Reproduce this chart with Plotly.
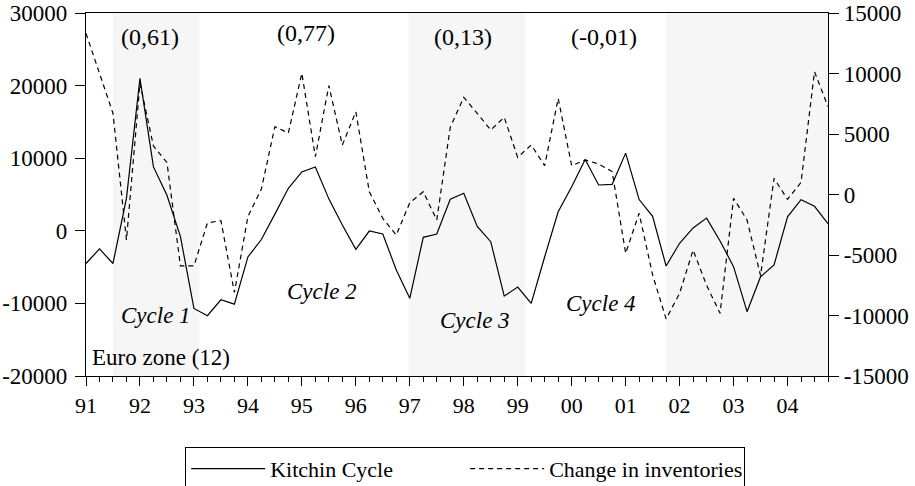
import plotly.graph_objects as go

# ---- data ----
years = list(range(1991, 2005))
year_labels = ["91", "92", "93", "94", "95", "96", "97", "98", "99", "00", "01", "02", "03", "04"]

kitchin = [
    -4500, -2500, -4500, 4500,      # 91
    21000, 8800, 4900, -800,        # 92
    -10700, -11700, -9500, -10100,  # 93
    -3600, -1200, 2300, 5850,       # 94
    8100, 8800, 4400, 800,          # 95
    -2550, -30, -440, -5400,        # 96
    -9300, -900, -440, 4340,        # 97
    5170, 600, -1500, -9000,        # 98
    -7750, -10000, -3570, 2630,     # 99
    6080, 9810, 6310, 6400,         # 00
    10700, 4300, 2000, -4850,       # 01
    -1720, 400, 1750, -1400,        # 02
    -4940, -11140, -6320, -4710,    # 03
    1930, 4290, 3370, 980,          # 04
]

inventories = [
    13320, 10100, 6710, -3760,      # 91
    9200, 4000, 2650, -5900,        # 92
    -5900, -2350, -2160, -8100,     # 93
    -1830, 450, 5600, 5080,         # 94
    10020, 3120, 9000, 4090,        # 95
    6840, 230, -1970, -3350,        # 96
    -680, 230, -2110, 5550,         # 97
    8030, 6710, 5330, 6380,         # 98
    3070, 4090, 2380, 7950,         # 99
    2380, 2850, 2520, 1900,         # 00
    -4860, -1550, -6650, -10280,    # 01
    -8170, -4590, -7500, -9820,     # 02
    -310, -2110, -6700, 1340,       # 03
    -400, 1000, 10150, 7260,        # 04
]

correlations = ["(0,61)", "(0,77)", "(0,13)", "(-0,01)"]
cycle_names = ["Cycle 1", "Cycle 2", "Cycle 3", "Cycle 4"]
left_ticks = [-20000, -10000, 0, 10000, 20000, 30000]
right_ticks = [-15000, -10000, -5000, 0, 5000, 10000, 15000]
shaded_periods = [(91.5, 93.1), (96.97, 99.14), (101.75, 104.75)]

# ---- positions (years as 91..104 on a numeric axis, quarters in between) ----
x = [(y - 1900) + q * 0.25 for y in years for q in range(4)]
tickpos = [y - 1900 for y in years]

FONT = "Liberation Serif, Times New Roman, serif"

fig = go.Figure()
fig.add_trace(go.Scatter(
    x=x, y=kitchin, mode="lines", name="Kitchin Cycle",
    line=dict(color="black", width=1.2), yaxis="y"))
fig.add_trace(go.Scatter(
    x=x, y=inventories, mode="lines", name="Change in inventories",
    line=dict(color="black", width=1.2, dash="5px,4px"), yaxis="y2"))

shapes = []
for x0, x1 in shaded_periods:
    shapes.append(dict(type="rect", xref="x", yref="paper", x0=x0, x1=x1, y0=0, y1=1,
                       fillcolor="rgba(0,0,0,0.035)", line=dict(width=0), layer="below"))

ann = []
corr_pos = [(92.19, 26700), (95.08, 27250), (97.99, 26700), (100.6, 26700)]
for t, (ax, ay) in zip(correlations, corr_pos):
    ann.append(dict(x=ax, y=ay, xref="x", yref="y", text=t, showarrow=False,
                    font=dict(family=FONT, size=24, color="black")))
cyc_pos = [(92.3, -11700), (95.37, -8300), (98.2, -12400), (100.55, -9950)]
for t, (ax, ay) in zip(cycle_names, cyc_pos):
    ann.append(dict(x=ax, y=ay, xref="x", yref="y", text="<i>" + t + "</i>", showarrow=False,
                    font=dict(family=FONT, size=23, color="black")))
ann.append(dict(x=91.08, y=-17400, xref="x", yref="y", text="Euro zone (12)", showarrow=False,
                xanchor="left", font=dict(family=FONT, size=23, color="black")))

fig.update_layout(
    template="none",
    width=915, height=486,
    margin=dict(l=86, r=87, t=13, b=110, autoexpand=False),
    paper_bgcolor="white", plot_bgcolor="white",
    font=dict(family=FONT, size=22, color="black"),
    showlegend=True,
    legend=dict(orientation="h", x=0.511, xanchor="center", y=-0.195, yanchor="top",
                bordercolor="black", borderwidth=1, itemwidth=74, entrywidth=190,
                bgcolor="white",
                font=dict(family=FONT, size=22, color="black"),
                itemclick=False),
    xaxis=dict(range=[91, 104.75], tickmode="array", tickvals=tickpos, ticktext=year_labels,
               ticks="outside", ticklen=9, tickcolor="black", showgrid=False, zeroline=False,
               showline=True, linecolor="black", linewidth=1.2, mirror=True, automargin=False,
               minor=dict(tick0=91, dtick=0.25, ticks="outside", ticklen=5, tickcolor="black", showgrid=False),
               tickfont=dict(family=FONT, size=22)),
    yaxis=dict(range=[-20000, 30000], tickmode="array", tickvals=left_ticks,
               ticktext=[str(v) for v in left_ticks], automargin=False,
               ticks="outside", ticklen=10, tickcolor="black", showgrid=False, zeroline=False,
               showline=True, linecolor="black", linewidth=1.2, ticklabelstandoff=3,
               tickfont=dict(family=FONT, size=23)),
    yaxis2=dict(range=[-15000, 15000], overlaying="y", side="right", tickmode="array",
                tickvals=right_ticks, ticktext=[str(v) for v in right_ticks], automargin=False,
                ticks="outside", ticklen=10, tickcolor="black", showgrid=False, zeroline=False,
                showline=True, linecolor="black", linewidth=1.2,
                tickfont=dict(family=FONT, size=23)),
    shapes=shapes, annotations=ann,
)

fig.write_html("out.html", config={"displayModeBar": False},
               post_script="document.body.style.margin='0';document.body.style.overflow='hidden';")
